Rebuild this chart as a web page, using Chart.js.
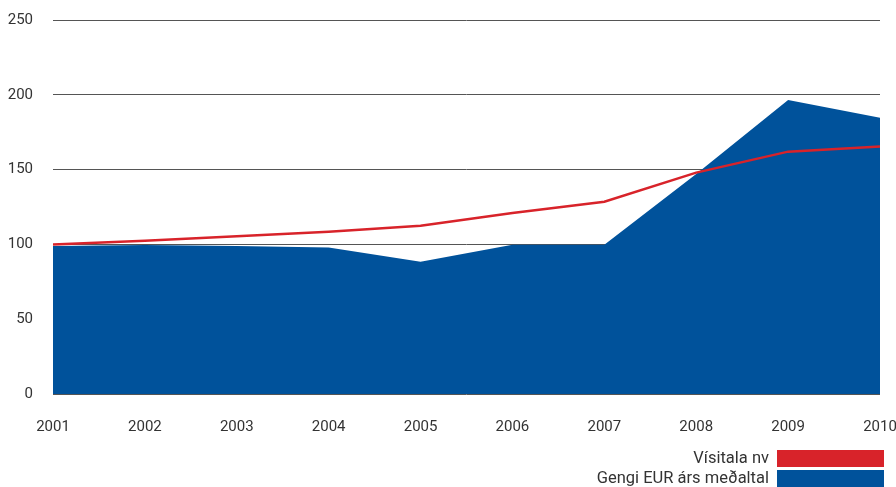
<!DOCTYPE html>
<html>
<head>
<meta charset="utf-8">
<script src="https://cdn.jsdelivr.net/npm/chart.js@4"></script>
<style>
  html, body { margin: 0; padding: 0; background: #fff; }
  #wrap { width: 896px; height: 487px; }
</style>
</head>
<body>
<div id="wrap"><canvas id="chart" width="896" height="487"></canvas></div>
<script>
// data
const years = ['2001','2002','2003','2004','2005','2006','2007','2008','2009','2010'];
const visitala = [100, 102.5, 105.5, 108.5, 112.5, 121, 128.5, 148, 162, 165.5];
const gengiEur = [99, 99.6, 98.9, 98, 88.4, 99.8, 99.8, 147, 196.5, 184.7];
const yTicks = [0, 50, 100, 150, 200, 250];

const RED = '#d8232a', BLUE = '#00529b';

// legend: text right-aligned, colour bar after it
const sideLegend = {
  id: 'sideLegend',
  afterDraw(chart) {
    const c = chart.ctx;
    c.save();
    c.font = '16.5px Roboto';
    c.fillStyle = '#333';
    c.textAlign = 'right';
    c.textBaseline = 'middle';
    chart.data.datasets.forEach((ds, i) => {
      const top = 450 + i * 20;
      c.fillText(ds.label, 769, top + 9);
      c.fillStyle = ds.legendColor;
      c.fillRect(777, top, 107, 17);
      c.fillStyle = '#333';
    });
    c.restore();
  }
};

new Chart(document.getElementById('chart'), {
  type: 'line',
  data: {
    labels: years,
    datasets: [
      {label: 'Vísitala nv', data: visitala, borderColor: RED, borderWidth: 2.5,
       pointRadius: 0, fill: false, tension: 0, legendColor: RED},
      {label: 'Gengi EUR árs meðaltal', data: gengiEur, borderWidth: 0, borderColor: BLUE,
       backgroundColor: BLUE, pointRadius: 0, fill: 'origin', tension: 0, legendColor: BLUE}
    ]
  },
  options: {
    responsive: false,
    animation: false,
    layout: {padding: {top: 20, right: 16, left: 0, bottom: 0}},
    plugins: {legend: {display: false}, tooltip: {enabled: false}},
    scales: {
      x: {
        offset: false,
        grid: {display: false},
        border: {display: false},
        ticks: {color: '#333', font: {family: 'Roboto', size: 15}, padding: 16, maxRotation: 0},
        afterFit(s) { s.height = 93; s.paddingLeft = 0; s.paddingRight = 0; }
      },
      y: {
        min: 0, max: 250,
        afterBuildTicks(s) { s.ticks = yTicks.map(v => ({value: v})); },
        grid: {color: '#555', lineWidth: 1, drawTicks: false},
        border: {display: false},
        ticks: {color: '#333', font: {family: 'Roboto', size: 15}, padding: 20},
        afterFit(s) { s.width = 53; s.paddingTop = 0; s.paddingBottom = 0; }
      }
    }
  },
  plugins: [sideLegend]
});
</script>
</body>
</html>
